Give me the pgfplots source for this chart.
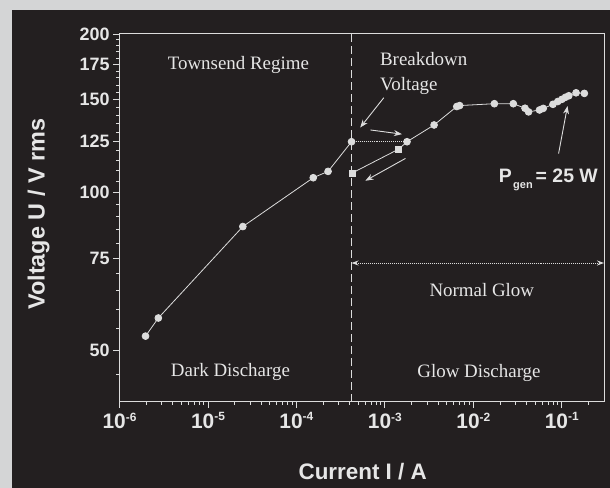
\documentclass[border=0pt]{standalone}
\usepackage{pgfplots}
\pgfplotsset{compat=1.18}
\usepackage{fontspec}
\setmainfont{Liberation Serif}
\setsansfont{Liberation Sans}
\usetikzlibrary{arrows.meta}

\definecolor{frame}{HTML}{D4D5D6}
\definecolor{panel}{HTML}{231F20}
\definecolor{fg}{HTML}{DCDCDC}
\definecolor{txt}{HTML}{E6E6E6}

% decade label: large mantissa, small raised exponent
\newcommand{\dec}[1]{10\raisebox{7.5bp}{\fontsize{12}{12}\selectfont -#1}}

\begin{document}
\begin{tikzpicture}
\useasboundingbox (0,0) rectangle (610bp,488bp);
\fill[frame] (0,0) rectangle (610bp,488bp);
\fill[panel] (12bp,0) rectangle (610bp,478bp);
\begin{axis}[
  at={(119.5bp,86.3bp)}, anchor=south west,
  scale only axis, width=484.5bp, height=367.7bp,
  xmode=log, ymode=log,
  xmin=1e-6, xmax=0.3, ymin=40, ymax=200,
  axis line style={fg, line width=1bp},
  tick pos=left, tick align=outside,
  major tick length=6.5bp, minor tick length=3.2bp,
  every tick/.style={fg, line width=0.9bp},
  xtick={1e-6,1e-5,1e-4,1e-3,1e-2,1e-1},
  xticklabels={\dec{6},\dec{5},\dec{4},\dec{3},\dec{2},\dec{1}},
  minor xtick={2e-6,3e-6,4e-6,5e-6,6e-6,7e-6,8e-6,9e-6,
               2e-5,3e-5,4e-5,5e-5,6e-5,7e-5,8e-5,9e-5,
               2e-4,3e-4,4e-4,5e-4,6e-4,7e-4,8e-4,9e-4,
               2e-3,3e-3,4e-3,5e-3,6e-3,7e-3,8e-3,9e-3,
               2e-2,3e-2,4e-2,5e-2,6e-2,7e-2,8e-2,9e-2,2e-1},
  ytick={50,75,100,125,150,175,200},
  yticklabels={50,75,100,125,150,175,200},
  minor ytick={45,55,60,65,70,80,85,90,95,105,110,115,120,130,135,140,145,
               155,160,165,170,180,185,190,195},
  xticklabel style={font=\fontsize{21}{21}\sffamily\bfseries, text=txt, yshift=-1bp},
  yticklabel style={font=\fontsize{18}{18}\sffamily\bfseries, text=txt},
  xlabel={Current I / A},
  ylabel={Voltage U / V rms},
  xlabel style={font=\fontsize{22.5}{22.5}\sffamily\bfseries, text=txt,
                at={(axis description cs:0.502,-0.19)}, anchor=center},
  ylabel style={font=\fontsize{23.5}{23.5}\sffamily\bfseries, text=txt,
                at={(axis description cs:-0.167,0.51)}, anchor=center},
  clip=false,
]
% regime boundary
\draw[fg, line width=1bp, dash pattern=on 8bp off 4bp]
  (axis cs:4.2e-4,40) -- (axis cs:4.2e-4,200);

% ignition: dark discharge up to breakdown
\addplot[fg, line width=0.8bp, mark=*, mark size=3.4bp,
  mark options={fill=fg, draw=fg}] coordinates {
  (1.97e-6,53.3) (2.75e-6,57.7) (2.48e-5,86.1) (1.55e-4,106.6)
  (2.28e-4,109.6) (4.2e-4,124.8)};
% jump at breakdown
\addplot[fg, line width=1bp, densely dotted] coordinates {
  (4.2e-4,124.8) (1.78e-3,124.8)};
% normal glow branch
\addplot[fg, line width=0.8bp, mark=*, mark size=3.4bp,
  mark options={fill=fg, draw=fg, solid}] coordinates {
  (1.78e-3,124.8) (3.6e-3,134.3) (6.5e-3,145.6) (7.0e-3,146.2)
  (0.0173,147.4) (0.0283,147.4) (0.0384,144.5) (0.0421,142.2)
  (0.056,143.4) (0.0617,144.4) (0.0795,147.0) (0.09,148.8)
  (0.1,150.2) (0.11,151.6) (0.12,152.6) (0.145,154.6) (0.18,154.2)};
% decreasing current
\addplot[fg, line width=0.8bp, mark=square*, mark size=3bp,
  mark indices={2,3}, mark options={fill=fg, draw=fg}] coordinates {
  (1.78e-3,124.8) (1.43e-3,120.8) (4.26e-4,108.8)};

% arrows
\draw[fg, line width=0.9bp, -{Stealth[length=8bp,width=6bp]}]
  (axis cs:9.72e-4,151.3) -- (axis cs:5.26e-4,132.8);
\draw[fg, line width=0.9bp, -{Stealth[length=8bp,width=6bp]}]
  (axis cs:6.85e-4,131.4) -- (axis cs:1.56e-3,129);
\draw[fg, line width=0.9bp, -{Stealth[length=8bp,width=6bp]}]
  (axis cs:1.71e-3,116) -- (axis cs:6.02e-4,105.2);
\draw[fg, line width=0.9bp, -{Stealth[length=8bp,width=6bp]}]
  (axis cs:0.092,118.5) -- (axis cs:0.116,145.9);
\draw[fg, line width=1bp, densely dotted,
  {Stealth[length=7bp,width=5bp]}-{Stealth[length=7bp,width=5bp]}]
  (axis cs:4.2e-4,73.4) -- (axis cs:0.3,73.4);

% labels
\begin{scope}[every node/.style={text=txt, font=\fontsize{19}{19}\selectfont, inner sep=0pt}]
\node[anchor=base] at (axis cs:2.21e-5,171.3) {Townsend Regime};
\node[anchor=base west] at (axis cs:8.78e-4,174.1) {Breakdown};
\node[anchor=base west] at (axis cs:8.78e-4,156.5) {Voltage};
\node[anchor=base] at (axis cs:1.795e-5,44.6) {Dark Discharge};
\node[anchor=base] at (axis cs:0.01159,44.4) {Glow Discharge};
\node[anchor=base] at (axis cs:0.01247,63.3) {Normal Glow};
\end{scope}
\node[anchor=base west, inner sep=0pt, text=txt,
  font=\fontsize{19.5}{19.5}\sffamily\bfseries] at (axis cs:0.0193,104.5)
  {P\hspace{1.5bp}\raisebox{-6bp}{\fontsize{11}{11}\selectfont gen}\hspace{3bp}= 25 W};
\end{axis}
\end{tikzpicture}
\end{document}
